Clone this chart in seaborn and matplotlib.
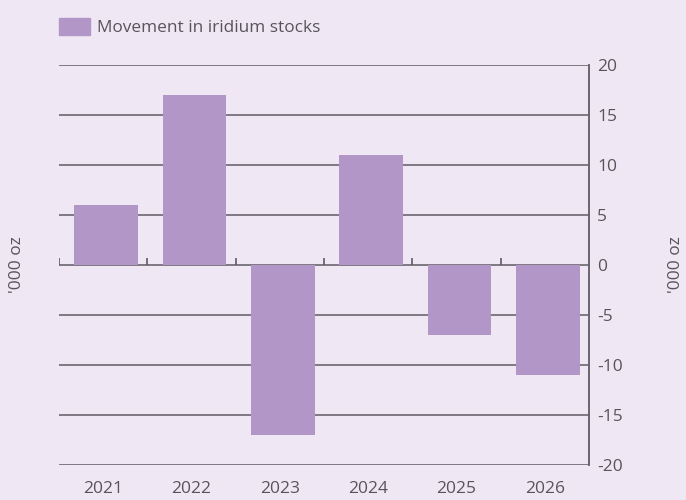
import numpy as np
import pandas as pd
import seaborn as sns
import matplotlib
from matplotlib import pyplot as plt

# Chart data
years = ['2021', '2022', '2023', '2024', '2025', '2026']
movement = [6, 17, -17, 11, -7, -11]
series_name = 'Movement in iridium stocks'
yticks = [-20, -15, -10, -5, 0, 5, 10, 15, 20]

bg = '#efe8f4'
bar_col = '#b396c8'
line_col = '#5f5a63'
txt_col = '#58555a'

sns.set_style('white')
plt.rcParams['font.family'] = ['Open Sans', 'DejaVu Sans']
plt.rcParams['axes.unicode_minus'] = False

df = pd.DataFrame({'year': years, 'value': movement})

fig = plt.figure(figsize=(6.86, 5.0), dpi=100, facecolor=bg)
ax = fig.add_axes([59 / 686, 0.07, 530 / 686, 0.80], facecolor=bg)

# grid lines behind bars
for v in yticks:
    ax.axhline(v, color=line_col, lw=1.1, zorder=0)

# small upward ticks on the zero line at category boundaries
ax.vlines(np.arange(len(years)) - 0.5, 0, 0.7, color=line_col, lw=1.2, zorder=1)

sns.barplot(data=df, x='year', y='value', color=bar_col, width=0.72,
            saturation=1, linewidth=0, ax=ax, zorder=2)
# bars sit a little right of the category centres in the original
for p in ax.patches:
    p.set_x(p.get_x() + 0.035)

ax.set_ylim(-20, 20)
ax.set_xlim(-0.5, len(years) - 0.5)
ax.set_yticks(yticks)
ax.yaxis.tick_right()
ax.tick_params(axis='y', length=0, pad=6, labelsize=12.5, labelcolor=txt_col)
ax.tick_params(axis='x', length=0, pad=11.5, labelsize=12.5, labelcolor=txt_col)
ax.set_xlabel('')
ax.set_ylabel('')

for s in ['left', 'top', 'bottom']:
    ax.spines[s].set_visible(False)
ax.spines['right'].set_color(line_col)
ax.spines['right'].set_linewidth(1.3)

# y-axis unit labels on both sides
fig.text(0.025, 0.47, "'000 oz", rotation=90, ha='center', va='center',
         fontsize=12.5, color=txt_col)
fig.text(0.985, 0.47, "'000 oz", rotation=90, ha='center', va='center',
         fontsize=12.5, color=txt_col)

# legend
handle = matplotlib.patches.Patch(color=bar_col, label=series_name)
fig.legend(handles=[handle], loc='upper left', bbox_to_anchor=(0.063, 0.995),
           frameon=False, fontsize=12.4, handlelength=1.8, handleheight=1.15,
           handletextpad=0.4, labelcolor=txt_col)

fig.savefig('out.png', dpi=100, facecolor=bg)
